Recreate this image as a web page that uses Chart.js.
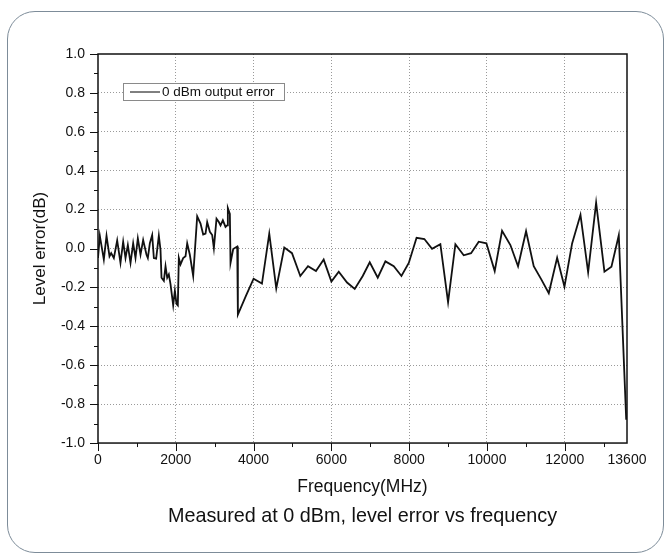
<!DOCTYPE html>
<html>
<head>
<meta charset="utf-8">
<script src="https://cdn.jsdelivr.net/npm/chart.js@4.4.1/dist/chart.umd.min.js"></script>
<style>
  html, body { margin: 0; padding: 0; background: #fff; }
  #wrap { position: relative; width: 668px; height: 554px; overflow: hidden; }
  #frame { position: absolute; left: 7px; top: 11px; width: 655px; height: 540px;
           border: 1.5px solid #7d8c99; border-radius: 28px; pointer-events: none; }
  canvas { position: absolute; left: 0; top: 0; }
</style>
</head>
<body>
<div id="wrap">
  <canvas id="chart" width="668" height="554"></canvas>
  <div id="frame"></div>
</div>
<script>
// values
const freqMHz = [
  0, 47, 150, 219, 296, 339, 407, 493, 578, 647, 707, 767, 836, 904, 964, 1024,
  1093, 1161, 1247, 1281, 1333, 1393, 1436, 1495, 1564, 1607, 1633, 1693, 1736,
  1779, 1821, 1864, 1933, 1976, 2018, 2052, 2078, 2121, 2190, 2250, 2293, 2361,
  2447, 2550, 2636, 2704, 2764, 2807, 2876, 2936, 2979, 3047, 3107, 3150, 3210,
  3278, 3321, 3338, 3390, 3407, 3476, 3579, 3596, 3800, 4000, 4215, 4403, 4583,
  4789, 4987, 5201, 5399, 5604, 5802, 6000, 6189, 6403, 6600, 6806, 6986, 7192,
  7389, 7604, 7801, 7990, 8190, 8390, 8588, 8802, 9000, 9188, 9402, 9591, 9788,
  9985, 10199, 10388, 10602, 10799, 11005, 11202, 11400, 11589, 11804, 11992,
  12189, 12404, 12601, 12806, 13020, 13200, 13389, 13580
];
const levelErr = [
  -0.049, 0.066, -0.057, 0.066, -0.040, -0.024, -0.049, 0.042, -0.074, 0.035,
  -0.049, 0.018, -0.074, 0.027, -0.049, 0.052, -0.032, 0.044, -0.032, -0.049,
  0.027, 0.069, -0.049, -0.052, 0.066, -0.007, -0.150, -0.166, -0.091, -0.150,
  -0.133, -0.183, -0.292, -0.217, -0.284, -0.292, -0.049, -0.082, -0.049, -0.040,
  0.027, -0.032, -0.141, 0.165, 0.128, 0.072, 0.077, 0.136, 0.086, 0.069, 0.002,
  0.153, 0.136, 0.119, 0.145, 0.111, 0.119, 0.208, 0.178, -0.074, -0.003, 0.010,
  -0.340, -0.245, -0.155, -0.180, 0.077, -0.205, 0.005, -0.024, -0.141, -0.091,
  -0.116, -0.057, -0.170, -0.119, -0.175, -0.208, -0.141, -0.071, -0.150, -0.066,
  -0.091, -0.141, -0.074, 0.055, 0.049, -0.002, 0.022, -0.276, 0.022, -0.035,
  -0.024, 0.035, 0.027, -0.116, 0.091, 0.018, -0.091, 0.089, -0.091, -0.160,
  -0.230, -0.048, -0.196, 0.026, 0.173, -0.122, 0.235, -0.119, -0.094, 0.068,
  -0.880
];
const seriesLabel = '0 dBm output error';
const xTickValues = [0, 2000, 4000, 6000, 8000, 10000, 12000, 13600];
const xMinorTicks = [1000, 3000, 5000, 7000, 9000, 11000, 13000];
const yMajorTicks = [-1, -0.8, -0.6, -0.4, -0.2, 0, 0.2, 0.4, 0.6, 0.8, 1];
const yMinorTicks = [-0.9, -0.7, -0.5, -0.3, -0.1, 0.1, 0.3, 0.5, 0.7, 0.9];

const FONT = "'Liberation Sans', Arial, sans-serif";
const GRID = '#9a9a9a';

// frame, outward tick marks and the boxed legend
const framePlugin = {
  id: 'frame',
  afterDatasetsDraw(chart) {
    const {ctx, chartArea: a, scales: {x, y}} = chart;
    ctx.save();
    ctx.strokeStyle = '#111';
    ctx.lineWidth = 1.5;
    ctx.strokeRect(a.left, a.top, a.right - a.left, a.bottom - a.top);

    ctx.lineWidth = 1;
    ctx.beginPath();
    xTickValues.slice(0, -1).forEach(v => {
      const px = Math.round(x.getPixelForValue(v)) + 0.5;
      ctx.moveTo(px, a.bottom); ctx.lineTo(px, a.bottom + 8);
    });
    xMinorTicks.forEach(v => {
      const px = Math.round(x.getPixelForValue(v)) + 0.5;
      ctx.moveTo(px, a.bottom); ctx.lineTo(px, a.bottom + 4);
    });
    yMajorTicks.forEach(v => {
      const py = Math.round(y.getPixelForValue(v)) + 0.5;
      ctx.moveTo(a.left, py); ctx.lineTo(a.left - 8, py);
    });
    yMinorTicks.forEach(v => {
      const py = Math.round(y.getPixelForValue(v)) + 0.5;
      ctx.moveTo(a.left, py); ctx.lineTo(a.left - 4, py);
    });
    ctx.stroke();

    // legend
    const bx = 123.5, by = 83.5, bw = 161, bh = 17;
    ctx.fillStyle = '#fff';
    ctx.fillRect(bx, by, bw, bh);
    ctx.strokeStyle = '#8a8a8a';
    ctx.strokeRect(bx, by, bw, bh);
    ctx.strokeStyle = '#000';
    ctx.beginPath();
    ctx.moveTo(130, by + bh / 2); ctx.lineTo(160, by + bh / 2);
    ctx.stroke();
    ctx.fillStyle = '#111';
    ctx.font = '13.5px ' + FONT;
    ctx.textBaseline = 'middle';
    ctx.fillText(chart.data.datasets[0].label, 162, by + bh / 2 + 0.5);
    ctx.restore();
  }
};

new Chart(document.getElementById('chart'), {
  type: 'line',
  data: {
    datasets: [{
      label: seriesLabel,
      data: freqMHz.map((f, i) => ({x: f, y: levelErr[i]})),
      borderColor: '#111',
      borderWidth: 1.8,
      pointRadius: 0,
      tension: 0,
      fill: false
    }]
  },
  options: {
    responsive: false,
    animation: false,
    devicePixelRatio: 1,
    layout: {padding: {left: 0, right: 41, top: 54, bottom: 0}},
    plugins: {
      legend: {display: false},
      tooltip: {enabled: false},
      title: {
        display: true,
        position: 'bottom',
        fullSize: false,
        text: 'Measured at 0 dBm, level error vs frequency',
        color: '#111',
        font: {family: FONT, size: 19.8, weight: 'normal'},
        padding: {top: 0, bottom: 25.6}
      }
    },
    scales: {
      x: {
        type: 'linear',
        min: 0,
        max: 13600,
        afterFit: s => { s.height = 61.6; },
        afterBuildTicks: s => { s.ticks = xTickValues.map(v => ({value: v})); },
        ticks: {
          autoSkip: false,
          maxRotation: 0,
          padding: 9,
          color: '#111',
          font: {family: FONT, size: 14},
          callback: v => String(v)
        },
        grid: {
          drawTicks: false,
          color: c => (c.tick && (c.tick.value === 0 || c.tick.value === 13600)) ? 'transparent' : GRID,
          lineWidth: 1
        },
        border: {display: false, dash: [1, 2]},
        title: {
          display: true,
          text: 'Frequency(MHz)',
          color: '#111',
          font: {family: FONT, size: 17.5},
          padding: {top: 0, bottom: 7}
        }
      },
      y: {
        min: -1,
        max: 1,
        afterFit: s => { s.width = 98; },
        ticks: {
          stepSize: 0.2,
          padding: 13,
          color: '#111',
          font: {family: FONT, size: 14},
          callback: v => (Math.abs(v) < 1e-9 ? 0 : v).toFixed(1)
        },
        grid: {
          drawTicks: false,
          color: c => (c.tick && Math.abs(Math.abs(c.tick.value) - 1) < 1e-9) ? 'transparent' : GRID,
          lineWidth: 1
        },
        border: {display: false, dash: [1, 2]},
        title: {
          display: true,
          text: 'Level error(dB)',
          color: '#111',
          font: {family: FONT, size: 17},
          padding: {top: 30, bottom: 0}
        }
      }
    }
  },
  plugins: [framePlugin]
});
</script>
</body>
</html>
